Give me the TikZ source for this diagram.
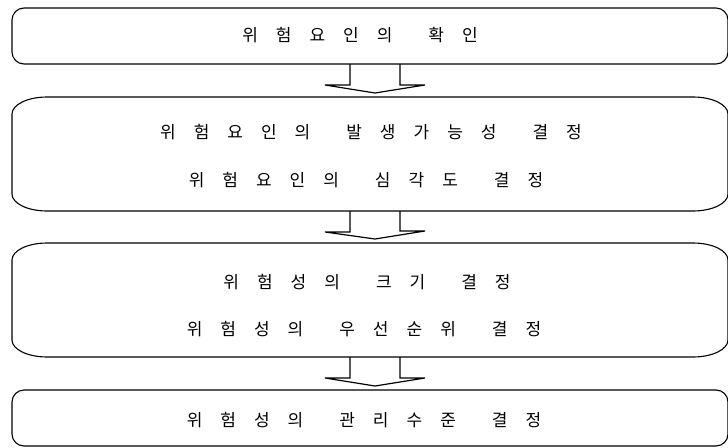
\documentclass[tikz,border=0pt]{standalone}
\usepackage{fontspec}
\newfontfamily\krfont{Noto Sans CJK KR}
\usetikzlibrary{calc}
\newcommand\wg{\hspace{36pt}}
\newcommand\lblfont{\krfont\fontsize{17}{20}\selectfont\spaceskip=18pt\relax}
% rounded box outline with elliptical corners: node, x radius, y radius
\newcommand\rbox[3]{%
  \draw[boxline] ([xshift=#2]#1.north west) -- ([xshift=-#2]#1.north east)
    arc[start angle=90,end angle=0,x radius=#2,y radius=#3]
    -- ([yshift=#3]#1.south east)
    arc[start angle=0,end angle=-90,x radius=#2,y radius=#3]
    -- ([xshift=#2]#1.south west)
    arc[start angle=270,end angle=180,x radius=#2,y radius=#3]
    -- ([yshift=-#3]#1.north west)
    arc[start angle=180,end angle=90,x radius=#2,y radius=#3]
    -- cycle;}
% block arrow from box #1 down to box #2
\newcommand\flowarrow[2]{%
  \draw[arrowline] ([xshift=-20pt]#1.south) -- ++(0,21) -- ++(-25,0)
    -- ([xshift=5pt,yshift=4pt]#2.north) -- ++(50,-8) -- ++(-25,0)
    -- ([xshift=30pt]#1.south);}
\begin{document}
\begin{tikzpicture}[x=1pt,y=-1pt,
  boxline/.style={line width=1.1pt, line join=round},
  arrowline/.style={line width=1.2pt, line join=miter},
  boxnode/.style={inner sep=0pt, outer sep=0pt, minimum width=716pt},
  label/.style={inner sep=0pt, font=\lblfont}]
\fill[white] (0,0) rectangle (728,447);
\useasboundingbox (0,0) rectangle (728,447);

\node[boxnode, minimum height=56pt] (b1) at (370,36) {};
\node[boxnode, minimum height=114pt] (b2) at (370,154) {};
\node[boxnode, minimum height=114pt] (b3) at (370,300) {};
\node[boxnode, minimum height=56pt] (b4) at (370,418) {};

\rbox{b1}{12pt}{12pt}
\rbox{b2}{35pt}{17pt}
\rbox{b3}{35pt}{17pt}
\rbox{b4}{12pt}{12pt}

\flowarrow{b1}{b2}
\flowarrow{b2}{b3}
\flowarrow{b3}{b4}

\node[label] (t1) at (360,35) {위 험 요 인 의\wg 확 인};
\node[label] (t2a) at (371,132) {위 험 요 인 의\wg 발 생 가 능 성\wg 결 정};
\node[label] (t2b) at (366,180) {위 험 요 인 의\wg 심 각 도\wg 결 정};
\node[label] (t3a) at (367,282) {위 험 성 의\wg 크 기\wg 결 정};
\node[label] (t3b) at (364,329) {위 험 성 의\wg 우 선 순 위\wg 결 정};
\node[label] (t4) at (364,420) {위 험 성 의\wg 관 리 수 준\wg 결 정};
\end{tikzpicture}
\end{document}
